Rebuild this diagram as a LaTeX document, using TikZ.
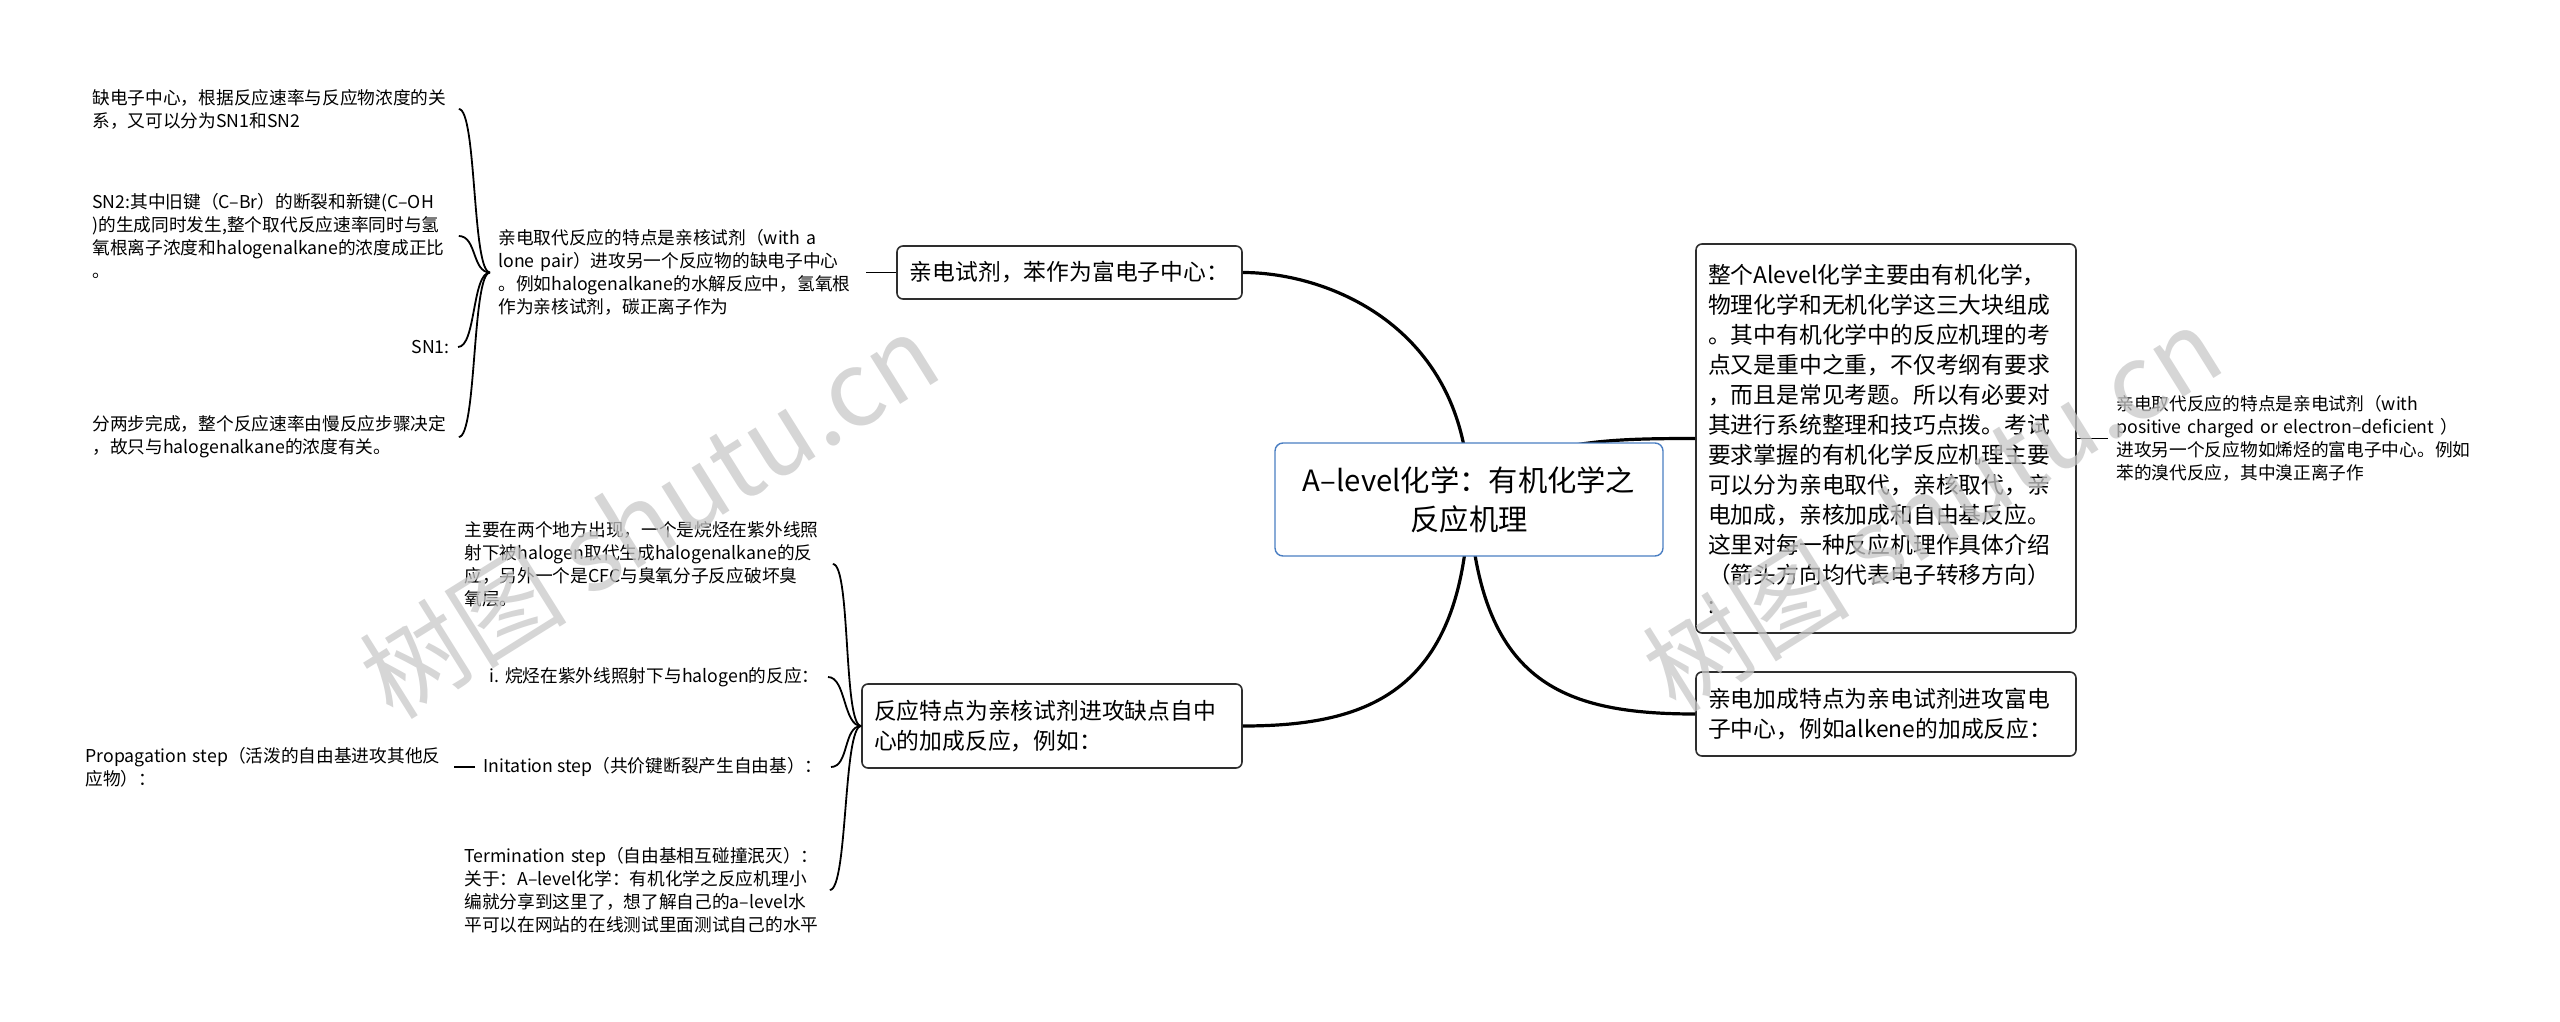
\documentclass[tikz,border=0pt]{standalone}
\usepackage{fontspec}
\setmainfont{Noto Sans CJK SC}
\usepackage{xcolor}
\usetikzlibrary{positioning}
\definecolor{rootblue}{HTML}{4A7EC2}
\definecolor{boxline}{HTML}{2E2E2E}
\definecolor{wmgray}{HTML}{C8C8C8}

\begin{document}
\begin{tikzpicture}[x=0.5pt, y=-0.5pt,
    rootbox/.style={rectangle, draw=rootblue, line width=0.7pt, rounded corners=4pt, fill=white,
        align=center, minimum width=194pt, minimum height=56.5pt, font=\fontsize{14.65}{19.5}\selectfont},
    topic/.style={rectangle, draw=boxline, line width=0.8pt, rounded corners=3pt, fill=white,
        align=left, inner xsep=6pt, font=\fontsize{11.4}{15}\selectfont},
    leaf/.style={align=left, inner xsep=4pt, inner ysep=2pt, font=\fontsize{8.85}{11.5}\selectfont},
    branch/.style={line width=1.6pt},
    twig/.style={line width=0.9pt},
    wmark/.style={text=wmgray, text opacity=0.75, rotate=32, font=\fontsize{52}{52}\selectfont}]
\useasboundingbox (0,0) rectangle (2560,1022);

\node[topic, minimum width=172.5pt, minimum height=26.5pt] (elec) at (1069.5,272.5) {亲电试剂，苯作为富电子中心：};
\node[topic, text width=178pt, minimum height=194.5pt] (intro) at (1886,438.5) {整个Alevel化学主要由有机化学，\\物理化学和无机化学这三大块组成\\。其中有机化学中的反应机理的考\\点又是重中之重，不仅考纲有要求\\，而且是常见考题。所以有必要对\\其进行系统整理和技巧点拨。考试\\要求掌握的有机化学反应机理主要\\可以分为亲电取代，亲核取代，亲\\电加成，亲核加成和自由基反应。\\这里对每一种反应机理作具体介绍\\（箭头方向均代表电子转移方向）\\:};
\node[topic, text width=178pt, minimum height=42pt] (addn) at (1886,714) {亲电加成特点为亲电试剂进攻富电\\子中心，例如alkene的加成反应：};
\node[topic, text width=178pt, minimum height=42pt] (nuc) at (1052,726) {反应特点为亲核试剂进攻缺点自中\\心的加成反应，例如：};

\node[leaf, anchor=west, text width=179.5pt] (sub) at (490,272.5) {亲电取代反应的特点是亲核试剂（with a\\lone pair）进攻另一个反应物的缺电子中心\\。例如halogenalkane的水解反应中，氢氧根\\作为亲核试剂，碳正离子作为};
\node[leaf, anchor=west, text width=179pt] (sone) at (84,109) {缺电子中心，根据反应速率与反应物浓度的关\\系，又可以分为SN1和SN2};
\node[leaf, anchor=west, text width=179pt] (stwo) at (84,236) {SN2:其中旧键（C–Br）的断裂和新键(C–OH\\)的生成同时发生,整个取代反应速率同时与氢\\氧根离子浓度和halogenalkane的浓度成正比\\。};
\node[leaf, anchor=east] (sn1) at (458,347) {SN1:};
\node[leaf, anchor=west, text width=179pt] (sfour) at (84,437) {分两步完成，整个反应速率由慢反应步骤决定\\，故只与halogenalkane的浓度有关。};

\node[leaf, anchor=west, text width=180pt] (elecsub) at (2108,438.5) {亲电取代反应的特点是亲电试剂（with\\positive charged or electron–deficient ）\\进攻另一个反应物如烯烃的富电子中心。例如\\苯的溴代反应，其中溴正离子作};

\node[leaf, anchor=west, text width=180pt] (ozone) at (456,564) {主要在两个地方出现，一个是烷烃在紫外线照\\射下被halogen取代生成halogenalkane的反\\应，另外一个是CFC与臭氧分子反应破坏臭\\氧层。};
\node[leaf, anchor=east] (alkane) at (828,677) {i. 烷烃在紫外线照射下与halogen的反应：};
\node[leaf, anchor=east] (inita) at (831,767) {Initation step（共价键断裂产生自由基）：};
\node[leaf, anchor=west, text width=180pt] (propa) at (77,767) {Propagation step（活泼的自由基进攻其他反\\应物）：};
\node[leaf, anchor=west, text width=178.5pt] (termi) at (456,890) {Termination step（自由基相互碰撞泯灭）：\\关于：A–level化学：有机化学之反应机理小\\编就分享到这里了，想了解自己的a–level水\\平可以在网站的在线测试里面测试自己的水平};

\draw[branch] (1469,499.5) .. controls +(0,-170) and +(88,0) .. (elec.east);
\draw[branch] (1469,499.5) .. controls +(51,-59) and +(-96,0) .. (intro.west);
\draw[branch] (1469,499.5) .. controls +(10,181) and +(-136,0) .. (addn.west);
\draw[branch] (1469,499.5) .. controls +(-5,191) and +(128,0) .. (nuc.east);
\node[rootbox] (root) at (1469,499.5) {A–level化学：有机化学之\\反应机理};

\draw[twig] (elec.west) -- (sub.east);
\draw[twig] (intro.east) -- (elecsub.west);
\draw[line width=1.3pt] (inita.west) -- (propa.east);

\draw[twig] (sub.west) .. controls +(-18,0) and +(18,0) .. (sone.east);
\draw[twig] (sub.west) .. controls +(-18,0) and +(18,0) .. (stwo.east);
\draw[twig] (sub.west) .. controls +(-18,0) and +(18,0) .. (sn1.east);
\draw[twig] (sub.west) .. controls +(-18,0) and +(18,0) .. (sfour.east);

\draw[twig] (nuc.west) .. controls +(-18,0) and +(18,0) .. (ozone.east);
\draw[twig] (nuc.west) .. controls +(-18,0) and +(18,0) .. (alkane.east);
\draw[twig] (nuc.west) .. controls +(-18,0) and +(18,0) .. (inita.east);
\draw[twig] (nuc.west) .. controls +(-18,0) and +(18,0) .. (termi.east);

\node[wmark] (wmleft) at (649,515) {树图 shutu.cn};
\node[wmark] (wmright) at (1932,508) {树图 shutu.cn};
\end{tikzpicture}
\end{document}
